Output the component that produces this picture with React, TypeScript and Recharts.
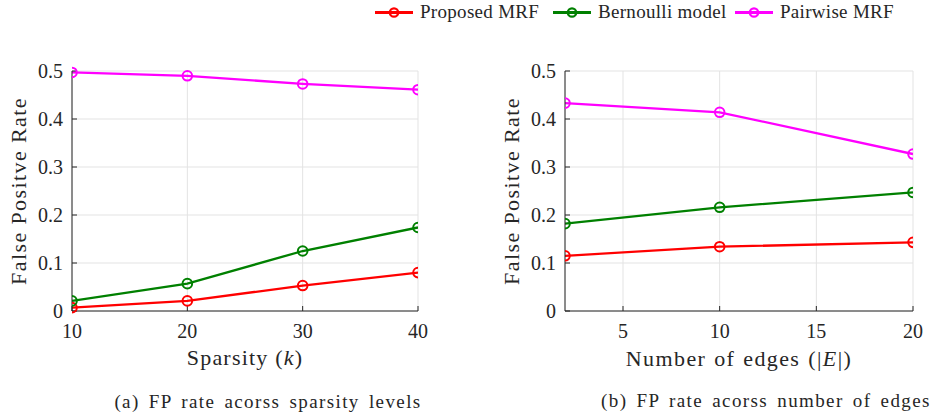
import React from "react";
import {
  CartesianGrid,
  LineChart,
  Line,
  XAxis,
  YAxis,
} from "recharts";

// (a) sparsity levels
const SPARSITY = [10, 20, 30, 40];
const PROPOSED_A = [0.007, 0.021, 0.053, 0.08];
const BERNOULLI_A = [0.021, 0.057, 0.125, 0.174];
const PAIRWISE_A = [0.497, 0.49, 0.473, 0.461];

// (b) number of edges
const EDGES = [2, 10, 20];
const PROPOSED_B = [0.115, 0.134, 0.143];
const BERNOULLI_B = [0.182, 0.216, 0.247];
const PAIRWISE_B = [0.433, 0.414, 0.327];

const Y_TICKS = [0, 0.1, 0.2, 0.3, 0.4, 0.5];
const X_TICKS_A = [10, 20, 30, 40];
const X_TICKS_B = [5, 10, 15, 20];

const SERIES = [
  { key: "proposed", name: "Proposed MRF", color: "#ff0000" },
  { key: "bernoulli", name: "Bernoulli model", color: "#008000" },
  { key: "pairwise", name: "Pairwise MRF", color: "#ff00ff" },
];

const dataA = SPARSITY.map((x, i) => ({
  x,
  proposed: PROPOSED_A[i],
  bernoulli: BERNOULLI_A[i],
  pairwise: PAIRWISE_A[i],
}));

const dataB = EDGES.map((x, i) => ({
  x,
  proposed: PROPOSED_B[i],
  bernoulli: BERNOULLI_B[i],
  pairwise: PAIRWISE_B[i],
}));

const FONT = "'Liberation Serif', 'DejaVu Serif', serif";
const INK = "#262626";
const GRID = "#e3e3e3";

const tickStyle = { fill: INK, fontSize: 20, fontFamily: FONT };

const fmtY = (v: number) => (v === 0 ? "0" : v.toFixed(1));

function yLabel(props: any) {
  const { viewBox } = props;
  const cx = viewBox.x - 3.5;
  const cy = viewBox.y + viewBox.height / 2;
  return (
    <text
      x={cx}
      y={cy}
      transform={`rotate(-90 ${cx} ${cy})`}
      textAnchor="middle"
      dominantBaseline="central"
      fill={INK}
      fontSize={22}
      letterSpacing={1.4}
      fontFamily={FONT}
    >
      False Positve Rate
    </text>
  );
}

function xLabelA(props: any) {
  const { viewBox } = props;
  return (
    <text
      x={viewBox.x + viewBox.width / 2}
      y={viewBox.y + 54}
      textAnchor="middle"
      fill={INK}
      fontSize={22}
      letterSpacing={1.2}
      fontFamily={FONT}
    >
      Sparsity (<tspan fontStyle="italic">k</tspan>)
    </text>
  );
}

function xLabelB(props: any) {
  const { viewBox } = props;
  return (
    <text
      x={viewBox.x + viewBox.width / 2}
      y={viewBox.y + 55}
      textAnchor="middle"
      fill={INK}
      fontSize={22}
      letterSpacing={1.4}
      wordSpacing={1}
      fontFamily={FONT}
    >
      Number of edges (|<tspan fontStyle="italic">E</tspan>|)
    </text>
  );
}

function Panel({
  data,
  domain,
  ticks,
  width,
  marginLeft,
  marginRight,
  xLabel,
}: any) {
  return (
    <LineChart
      width={width}
      height={418}
      data={data}
      margin={{ top: 71, right: marginRight, bottom: 50, left: marginLeft }}
    >
      <CartesianGrid stroke={GRID} strokeWidth={1} />
      <XAxis
        dataKey="x"
        type="number"
        domain={domain}
        ticks={ticks}
        allowDataOverflow
        height={57}
        tick={tickStyle}
        tickSize={-5}
        tickMargin={18}
        stroke={INK}
        label={xLabel}
      />
      <XAxis
        xAxisId="top"
        dataKey="x"
        type="number"
        orientation="top"
        domain={domain}
        ticks={ticks}
        allowDataOverflow
        height={0}
        tick={false}
        tickSize={-5}
        stroke={INK}
      />
      <YAxis
        type="number"
        domain={[0, 0.5]}
        ticks={Y_TICKS}
        width={50}
        tick={tickStyle}
        tickFormatter={fmtY}
        tickSize={-5}
        tickMargin={14}
        stroke={INK}
        label={yLabel}
      />
      <YAxis
        yAxisId="right"
        type="number"
        orientation="right"
        domain={[0, 0.5]}
        ticks={Y_TICKS}
        width={0}
        tick={false}
        tickSize={-5}
        stroke={INK}
      />
      {SERIES.map((s) => (
        <Line
          key={s.key}
          dataKey={s.key}
          name={s.name}
          stroke={s.color}
          strokeWidth={2.3}
          dot={{ r: 4.8, fill: "none", stroke: s.color, strokeWidth: 2 }}
          activeDot={false}
          isAnimationActive={false}
        />
      ))}
    </LineChart>
  );
}

// legend entries start where the reference puts them
const LEGEND_X = [375, 553, 735];

function Overlay() {
  return (
    <svg
      width={933}
      height={418}
      style={{ position: "absolute", left: 0, top: 0, pointerEvents: "none" }}
    >
      {SERIES.map((s, i) => {
        const x0 = LEGEND_X[i];
        return (
          <g key={s.key}>
            <line x1={x0} y1={12.5} x2={x0 + 38} y2={12.5} stroke={s.color} strokeWidth={2.8} />
            <circle cx={x0 + 19} cy={12.5} r={4.2} fill="none" stroke={s.color} strokeWidth={2.2} />
            <text
              x={x0 + 45}
              y={18}
              fill={INK}
              fontSize={19}
              letterSpacing={0.3}
              fontFamily={FONT}
            >
              {s.name}
            </text>
          </g>
        );
      })}
      <text
        x={268}
        y={408}
        textAnchor="middle"
        fill={INK}
        fontSize={19}
        letterSpacing={1.4}
        wordSpacing={3}
        fontFamily={FONT}
      >
        (a) FP rate acorss sparsity levels
      </text>
      <text
        x={766}
        y={407}
        textAnchor="middle"
        fill={INK}
        fontSize={19}
        letterSpacing={1.4}
        wordSpacing={3}
        fontFamily={FONT}
      >
        (b) FP rate acorss number of edges
      </text>
    </svg>
  );
}

export default function App() {
  return (
    <div
      style={{
        position: "absolute",
        left: 0,
        top: 0,
        width: 933,
        height: 418,
        background: "#fff",
        overflow: "hidden",
      }}
    >
      <div style={{ position: "absolute", left: 0, top: 0 }}>
        <Panel
          data={dataA}
          domain={[10, 40]}
          ticks={X_TICKS_A}
          width={470}
          marginLeft={22}
          marginRight={52}
          xLabel={xLabelA}
        />
      </div>
      <div style={{ position: "absolute", left: 470, top: 0 }}>
        <Panel
          data={dataB}
          domain={[2, 20]}
          ticks={X_TICKS_B}
          width={463}
          marginLeft={45}
          marginRight={20}
          xLabel={xLabelB}
        />
      </div>
      <Overlay />
    </div>
  );
}
